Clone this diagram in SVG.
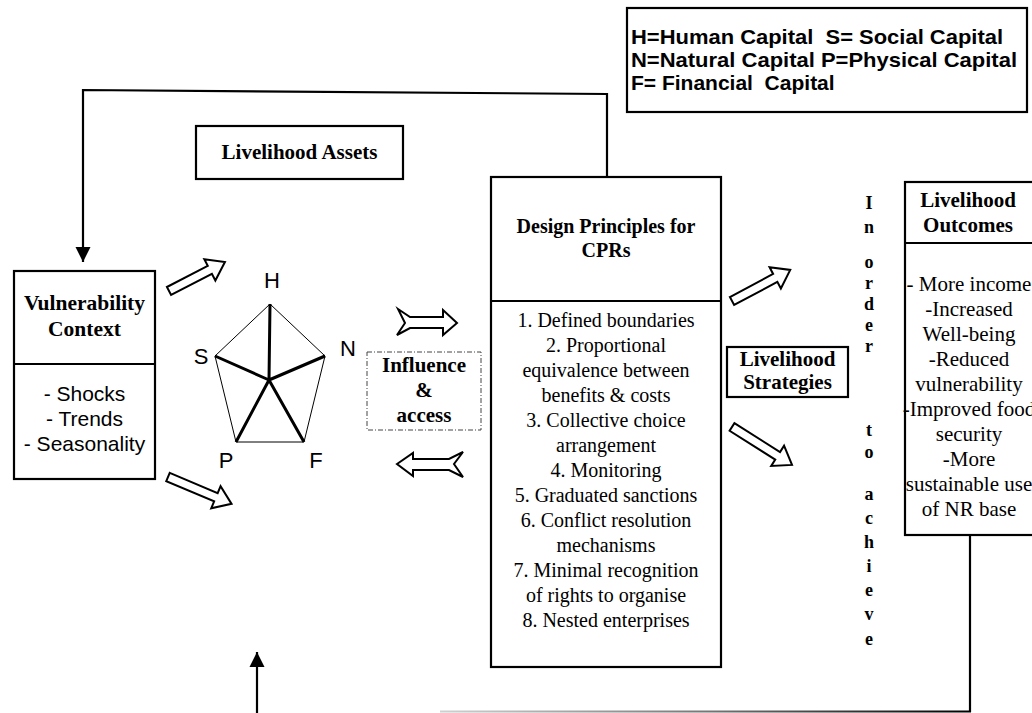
<svg xmlns="http://www.w3.org/2000/svg" width="1032" height="713" viewBox="0 0 1032 713">
  <style>
    .box { fill: #fff; stroke: #000; stroke-width: 2.2; }
    .line { fill: none; stroke: #000; stroke-width: 2.2; }
    .serif { font-family: "Liberation Serif", "Times New Roman", serif; fill: #000; }
    .sans { font-family: "Liberation Sans", Arial, sans-serif; fill: #000; }
    .b { font-weight: bold; }
    .mid { text-anchor: middle; }
    .hollow { fill: #fff; stroke: #000; stroke-width: 2; stroke-linejoin: miter; }
    .thin { stroke: #000; stroke-width: 1; fill: none; }
    .thick { stroke: #000; stroke-width: 3; fill: none; }
  </style>
  <defs>
    <marker id="tri" viewBox="0 0 10 10" refX="10" refY="5" markerWidth="7" markerHeight="7" markerUnits="strokeWidth" orient="auto">
      <path d="M0,0 L10,5 L0,10 Z" fill="#000"/>
    </marker>
    <linearGradient id="fade" gradientUnits="userSpaceOnUse" x1="440" y1="0" x2="970" y2="0">
      <stop offset="0" stop-color="#d0d0d0"/>
      <stop offset="0.5" stop-color="#777"/>
      <stop offset="1" stop-color="#000"/>
    </linearGradient>
  </defs>

  <rect width="1032" height="713" fill="#fff"/>

  <!-- connectors -->
  <g id="connectors">
    <!-- feedback loop from design principles back to vulnerability context -->
    <polyline class="line" points="607,177 607,94 83,90 83,262" marker-end="url(#tri)"/>
    <!-- outcomes loop back along the bottom -->
    <line x1="970" y1="535" x2="970" y2="712" stroke="#000" stroke-width="2.2"/>
    <line x1="440" y1="711.5" x2="971" y2="711.5" stroke="url(#fade)" stroke-width="2.2"/>
    <line x1="257" y1="713" x2="257" y2="652" stroke="#000" stroke-width="2.2" marker-end="url(#tri)"/>

    <!-- hollow block arrows -->
    <path class="hollow" transform="translate(169,291) rotate(-27.4)" d="M0,-4.5 L46,-4.5 L46,-12 L63,0 L46,12 L46,4.5 L0,4.5 Z"/>
    <path class="hollow" transform="translate(168,477) rotate(22.9)" d="M0,-4.5 L52,-4.5 L52,-12 L69,0 L52,12 L52,4.5 L0,4.5 Z"/>
    <path class="hollow" transform="translate(732,301) rotate(-28.1)" d="M0,-4.5 L49,-4.5 L49,-12 L66,0 L49,12 L49,4.5 L0,4.5 Z"/>
    <path class="hollow" transform="translate(732,427) rotate(32.3)" d="M0,-4.5 L54,-4.5 L54,-12 L71,0 L54,12 L54,4.5 L0,4.5 Z"/>

    <!-- notched arrows between assets and design principles -->
    <path class="hollow" transform="translate(397,322)" d="M1,-13 L13,-5 L46,-5 L46,-12 L60,1 L46,13 L46,6 L13,6 L0,13 L8,1 Z"/>
    <path class="hollow" transform="translate(397,464)" d="M0,0 L16,-11 L16,-5 L52,-5 L66,-12 L57,0 L66,13 L52,6 L16,6 L16,12 Z"/>
  </g>

  <!-- legend -->
  <g id="legend">
    <rect class="box" x="627" y="8" width="400" height="104"/>
    <text class="sans b" x="631" y="44" font-size="21" xml:space="preserve" textLength="372" lengthAdjust="spacingAndGlyphs">H=Human Capital  S= Social Capital</text>
    <text class="sans b" x="631" y="67" font-size="21" textLength="386" lengthAdjust="spacingAndGlyphs">N=Natural Capital P=Physical Capital</text>
    <text class="sans b" x="631" y="90" font-size="21" xml:space="preserve">F= Financial  Capital</text>
  </g>

  <!-- livelihood assets heading -->
  <g id="assets-label">
    <rect class="box" x="196" y="126" width="207" height="53"/>
    <text class="serif b mid" x="299.5" y="159" font-size="21">Livelihood Assets</text>
  </g>

  <!-- vulnerability context -->
  <g id="vulnerability">
    <rect class="box" x="14" y="271" width="141" height="208"/>
    <line class="line" x1="14" y1="364" x2="155" y2="364"/>
    <text class="serif b mid" x="84.5" y="310" font-size="21.5">Vulnerability</text>
    <text class="serif b mid" x="84.5" y="336" font-size="21.5">Context</text>
    <text class="sans mid" x="84.5" y="401" font-size="21">- Shocks</text>
    <text class="sans mid" x="84.5" y="426" font-size="21">- Trends</text>
    <text class="sans mid" x="84.5" y="451" font-size="21">- Seasonality</text>
  </g>

  <!-- asset pentagon -->
  <g id="pentagon">
    <polygon class="thin" points="270,304 325,356 304,442 236,442 215,356"/>
    <path class="thick" d="M270,304 L269,380 M325,356 L269,380 M304,442 L269,380 M236,442 L269,380 M215,356 L269,380"/>
    <text class="sans mid" x="272" y="288" font-size="22">H</text>
    <text class="sans mid" x="201" y="364" font-size="22">S</text>
    <text class="sans mid" x="348" y="356" font-size="22">N</text>
    <text class="sans mid" x="226" y="468" font-size="22">P</text>
    <text class="sans mid" x="316" y="468" font-size="22">F</text>
  </g>

  <!-- influence and access -->
  <g id="influence">
    <rect x="367" y="352" width="114" height="78" fill="none" stroke="#444" stroke-width="1" stroke-dasharray="5,2,1,2"/>
    <text class="serif b mid" x="424" y="372" font-size="21">Influence</text>
    <text class="serif b mid" x="424" y="397" font-size="21">&amp;</text>
    <text class="serif b mid" x="424" y="422" font-size="21">access</text>
  </g>

  <!-- design principles -->
  <g id="design-principles">
    <rect class="box" x="491" y="177" width="230" height="490"/>
    <line class="line" x1="491" y1="301" x2="721" y2="301"/>
    <text class="serif b mid" x="606" y="233" font-size="20">Design Principles for</text>
    <text class="serif b mid" x="606" y="257" font-size="20">CPRs</text>
    <g class="serif mid" font-size="20">
      <text x="606" y="327">1. Defined boundaries</text>
      <text x="606" y="352">2. Proportional</text>
      <text x="606" y="377">equivalence between</text>
      <text x="606" y="402">benefits &amp; costs</text>
      <text x="606" y="427">3. Collective choice</text>
      <text x="606" y="452">arrangement</text>
      <text x="606" y="477">4. Monitoring</text>
      <text x="606" y="502">5. Graduated sanctions</text>
      <text x="606" y="527">6. Conflict resolution</text>
      <text x="606" y="552">mechanisms</text>
      <text x="606" y="577">7. Minimal recognition</text>
      <text x="606" y="602">of rights to organise</text>
      <text x="606" y="627">8. Nested enterprises</text>
    </g>
  </g>

  <!-- livelihood strategies -->
  <g id="strategies">
    <rect class="box" x="727" y="347" width="121" height="50"/>
    <text class="serif b mid" x="787.5" y="366" font-size="21">Livelihood</text>
    <text class="serif b mid" x="787.5" y="389" font-size="21">Strategies</text>
  </g>

  <!-- vertical caption -->
  <g id="in-order-to-achieve" class="serif b mid" font-size="18">
    <text x="869" y="209">I</text>
    <text x="869" y="233">n</text>
    <text x="869" y="268">o</text>
    <text x="869" y="289">r</text>
    <text x="869" y="310">d</text>
    <text x="869" y="331">e</text>
    <text x="869" y="352">r</text>
    <text x="869" y="436">t</text>
    <text x="869" y="458">o</text>
    <text x="869" y="500">a</text>
    <text x="869" y="524">c</text>
    <text x="869" y="548">h</text>
    <text x="869" y="572">i</text>
    <text x="869" y="596">e</text>
    <text x="869" y="620">v</text>
    <text x="869" y="645">e</text>
  </g>

  <!-- livelihood outcomes -->
  <g id="outcomes">
    <rect class="box" x="905" y="182" width="140" height="353"/>
    <line class="line" x1="905" y1="243" x2="1045" y2="243"/>
    <text class="serif b mid" x="968" y="207" font-size="21">Livelihood</text>
    <text class="serif b mid" x="968" y="232" font-size="21">Outcomes</text>
    <g class="serif mid" font-size="21">
      <text x="969" y="291">- More income</text>
      <text x="969" y="316">-Increased</text>
      <text x="969" y="341">Well-being</text>
      <text x="969" y="366">-Reduced</text>
      <text x="969" y="391">vulnerability</text>
      <text x="969" y="416">-Improved food</text>
      <text x="969" y="441">security</text>
      <text x="969" y="466">-More</text>
      <text x="969" y="491">sustainable use</text>
      <text x="969" y="516">of NR base</text>
    </g>
  </g>
</svg>
